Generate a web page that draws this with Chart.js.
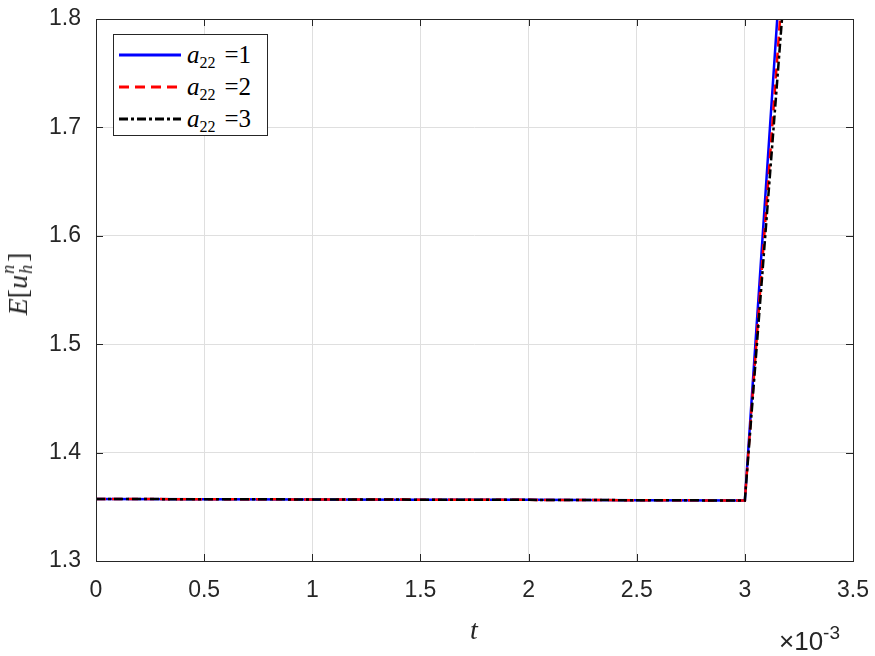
<!DOCTYPE html>
<html>
<head>
<meta charset="utf-8">
<script src="https://cdn.jsdelivr.net/npm/chart.js@4/dist/chart.umd.min.js"></script>
<style>
  body { margin: 0; background: #fff; }
  #wrap { position: relative; width: 875px; height: 656px; }
  .serif { font-family: "Liberation Serif", "DejaVu Serif", serif; color: #262626; position: absolute; }
  #legend { position: absolute; left: 113px; top: 34px; width: 153px; height: 100px; border: 1px solid #262626; background: #fff; }
  .row { position: absolute; left: 5px; height: 30px; line-height: 30px; white-space: nowrap; font-family: "Liberation Serif", "DejaVu Serif", serif; font-size: 25px; color: #000; }
  .row svg { vertical-align: middle; margin-right: 6px; position: relative; top: -2px; }
  .sub { font-size: 16px; position: relative; top: 5px; font-style: normal; }
  .eq { margin-left: 9px; }
  #ylab { left: 18px; top: 284px; transform: translate(-50%, -50%) rotate(-90deg); font-size: 28px; white-space: nowrap; }
  #ylab .hn { display: inline-block; position: relative; width: 13px; height: 20px; font-size: 18px; font-style: italic; }
  #ylab .hn span { position: absolute; left: 1px; }
  #xlab { left: 474px; top: 630px; transform: translate(-50%, -50%); font-size: 28px; font-style: italic; }
  #expo { position: absolute; left: 779px; top: 622px; font-family: "Liberation Sans", Arial, sans-serif; font-size: 26px; color: #262626; white-space: nowrap; }
  #expo sup { font-size: 19px; vertical-align: 11px; }
</style>
</head>
<body>
<div id="wrap">
  <canvas id="lineChart" width="875" height="656"></canvas>
  <div id="legend">
    <div class="row" style="top:5px"><svg width="62" height="6"><line x1="0" y1="3" x2="62" y2="3" stroke="#0000ff" stroke-width="3"/></svg><i>a</i><span class="sub">22</span><span class="eq">=1</span></div>
    <div class="row" style="top:37px"><svg width="62" height="6"><line x1="0" y1="3" x2="62" y2="3" stroke="#ff0000" stroke-width="3" stroke-dasharray="10,6"/></svg><i>a</i><span class="sub">22</span><span class="eq">=2</span></div>
    <div class="row" style="top:69px"><svg width="62" height="6"><line x1="0" y1="3" x2="62" y2="3" stroke="#000000" stroke-width="3" stroke-dasharray="9,3,3,3"/></svg><i>a</i><span class="sub">22</span><span class="eq">=3</span></div>
  </div>
  <div id="ylab" class="serif"><i>E</i>[<i>u</i><span class="hn"><span style="top:-9px">n</span><span style="top:9px">h</span></span>]</div>
  <div id="xlab" class="serif">t</div>
  <div id="expo">×10<sup>-3</sup></div>
</div>
<script>
// time in units of 1e-3
const tValues = [0, 0.5, 1.0, 1.5, 2.0, 2.5, 3.0, 3.5];
const energyA1 = [1.3572, 1.3570, 1.3568, 1.3566, 1.3564, 1.3561, 1.3558, 2.84];
const energyA2 = [1.3572, 1.3570, 1.3568, 1.3566, 1.3564, 1.3561, 1.3558, 2.72];
const energyA3 = [1.3572, 1.3570, 1.3568, 1.3566, 1.3564, 1.3561, 1.3558, 2.65];
const xTicks = [0, 0.5, 1, 1.5, 2, 2.5, 3, 3.5];
const yTicks = [1.3, 1.4, 1.5, 1.6, 1.7, 1.8];

function toPoints(ys) {
    return tValues.map((t, i) => ({ x: t, y: ys[i] }));
}

// MATLAB style box with inward ticks
const boxPlugin = {
    id: 'box',
    afterDraw(chart) {
        const { ctx, chartArea: a, scales } = chart;
        const len = 7;
        ctx.save();
        ctx.strokeStyle = '#262626';
        ctx.lineWidth = 1;
        ctx.beginPath();
        scales.x.ticks.forEach(t => {
            const px = Math.round(scales.x.getPixelForValue(t.value)) + 0.5;
            ctx.moveTo(px, a.bottom); ctx.lineTo(px, a.bottom - len);
            ctx.moveTo(px, a.top); ctx.lineTo(px, a.top + len);
        });
        scales.y.ticks.forEach(t => {
            const py = Math.round(scales.y.getPixelForValue(t.value)) + 0.5;
            ctx.moveTo(a.left, py); ctx.lineTo(a.left + len, py);
            ctx.moveTo(a.right, py); ctx.lineTo(a.right - len, py);
        });
        ctx.stroke();
        ctx.strokeRect(Math.round(a.left) + 0.5, Math.round(a.top) + 0.5,
            Math.round(a.right - a.left), Math.round(a.bottom - a.top));
        ctx.restore();
    }
};

window.onload = function () {
    const ctx = document.getElementById('lineChart').getContext('2d');
    new Chart(ctx, {
        type: 'scatter',
        data: {
            datasets: [
                {
                    label: 'a22 =1',
                    data: toPoints(energyA1),
                    showLine: true,
                    borderColor: '#0000ff',
                    borderWidth: 2.5,
                    pointRadius: 0,
                    clip: 0,
                    order: 3
                },
                {
                    label: 'a22 =2',
                    data: toPoints(energyA2),
                    showLine: true,
                    borderColor: '#ff0000',
                    borderWidth: 2.5,
                    borderDash: [10, 6],
                    pointRadius: 0,
                    clip: 0,
                    order: 2
                },
                {
                    label: 'a22 =3',
                    data: toPoints(energyA3),
                    showLine: true,
                    borderColor: '#000000',
                    borderWidth: 2.5,
                    borderDash: [9, 3, 3, 3],
                    pointRadius: 0,
                    clip: 0,
                    order: 1
                }
            ]
        },
        options: {
            responsive: false,
            animation: false,
            layout: { padding: { left: 0, top: 19, right: 22, bottom: 0 } },
            plugins: {
                legend: { display: false },
                tooltip: { enabled: false }
            },
            scales: {
                x: {
                    type: 'linear',
                    min: 0,
                    max: 3.5,
                    afterFit: s => { s.height = 95; s.paddingLeft = 0; s.paddingRight = 0; },
                    afterBuildTicks: s => { s.ticks = xTicks.map(v => ({ value: v })); },
                    grid: { color: '#dfdfdf', drawTicks: false },
                    border: { display: false },
                    ticks: {
                        padding: 16,
                        color: '#262626',
                        font: { family: 'Liberation Sans, Arial, sans-serif', size: 23 },
                        callback: v => String(v),
                        maxRotation: 0
                    }
                },
                y: {
                    min: 1.3,
                    max: 1.8,
                    afterFit: s => { s.width = 96; s.paddingTop = 0; s.paddingBottom = 0; },
                    afterBuildTicks: s => { s.ticks = yTicks.map(v => ({ value: v })); },
                    grid: { color: '#dfdfdf', drawTicks: false },
                    border: { display: false },
                    ticks: {
                        padding: 15,
                        color: '#262626',
                        font: { family: 'Liberation Sans, Arial, sans-serif', size: 23 },
                        callback: v => v.toFixed(1)
                    }
                }
            }
        },
        plugins: [boxPlugin]
    });
};
</script>
</body>
</html>
